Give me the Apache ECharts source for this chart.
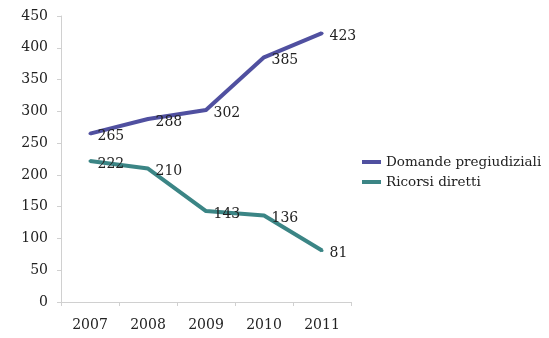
<!DOCTYPE html>
<html>
<head>
<meta charset="utf-8">
<script src="https://cdn.jsdelivr.net/npm/echarts@6/dist/echarts.min.js"></script>
<style>
  html, body { margin: 0; padding: 0; background: #fff; }
  #chart { width: 549px; height: 338px; }
</style>
</head>
<body>
<div id="chart"></div>
<script>
const years = ['2007', '2008', '2009', '2010', '2011']
const domande = [265, 288, 302, 385, 423]
const ricorsi = [222, 210, 143, 136, 81]

const font = 'DejaVu Serif'
const textColor = '#222'
const purple = '#5050A0'
const teal = '#3B8585'

const chart = echarts.init(document.getElementById('chart'), null, { renderer: 'canvas' })

function lineSeries(name, data, color) {
  return {
    name: name,
    type: 'line',
    data: data,
    symbol: 'circle',
    symbolSize: 3,
    itemStyle: { color: color },
    lineStyle: { color: color, width: 4 },
    label: {
      show: true,
      position: 'right',
      distance: 6,
      offset: [0, 3],
      color: textColor,
      fontFamily: font,
      fontSize: 14
    },
    animation: false
  }
}

chart.setOption({
  backgroundColor: '#fff',
  grid: { left: 61, right: 198, top: 16, bottom: 36 },
  legend: {
    orient: 'vertical',
    left: 362,
    top: 155,
    padding: 0,
    itemWidth: 19,
    itemHeight: 4,
    itemGap: 6,
    icon: 'rect',
    textStyle: { fontFamily: font, fontSize: 13.5, color: textColor },
    data: ['Domande pregiudiziali', 'Ricorsi diretti']
  },
  xAxis: {
    type: 'category',
    data: years,
    boundaryGap: true,
    axisLine: { lineStyle: { color: '#d0d0d0' } },
    axisTick: { show: true, length: 4, lineStyle: { color: '#d0d0d0' } },
    axisLabel: { fontFamily: font, fontSize: 14, color: textColor, margin: 16 }
  },
  yAxis: {
    type: 'value',
    min: 0,
    max: 450,
    interval: 50,
    axisLine: { show: true, lineStyle: { color: '#d0d0d0' } },
    axisTick: { show: true, length: 4, lineStyle: { color: '#d0d0d0' } },
    splitLine: { show: false },
    axisLabel: { fontFamily: font, fontSize: 14, color: textColor, margin: 13 }
  },
  series: [
    lineSeries('Domande pregiudiziali', domande, purple),
    lineSeries('Ricorsi diretti', ricorsi, teal)
  ]
})
</script>
</body>
</html>
